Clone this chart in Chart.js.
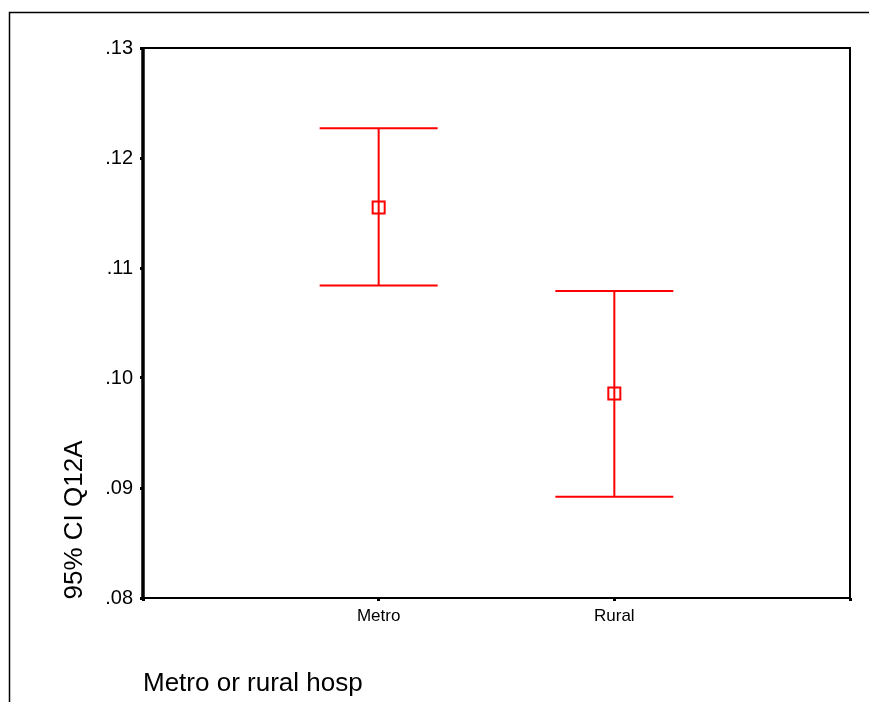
<!DOCTYPE html>
<html>
<head>
<meta charset="utf-8">
<title>95% CI Q12A by hospital type</title>
<script src="https://cdn.jsdelivr.net/npm/chart.js@4/dist/chart.umd.min.js"></script>
<style>
  html, body { margin: 0; padding: 0; background: #ffffff; }
  #wrap { width: 869px; height: 702px; position: relative; }
</style>
</head>
<body>
<div id="wrap"><canvas id="chart" width="869" height="702"></canvas></div>
<script>
// Hospital groups and their mean with 95% confidence limits
const categories = ['Metro', 'Rural'];
const means = [0.1155, 0.0986];
const lowerCI = [0.1084, 0.0892];
const upperCI = [0.1227, 0.1079];
const yTicks = [0.08, 0.09, 0.10, 0.11, 0.12, 0.13];

const yTitle = '95% CI Q12A';
const xTitle = 'Metro or rural hosp';

// Category slots with an empty slot at each end of the axis
const slotLabels = [''].concat(categories, ['']);
const meanSlots = [null].concat(means, [null]);

const FONT = "'Liberation Sans', Arial, Helvetica, sans-serif";

const frameAndBars = {
  id: 'frameAndBars',
  beforeDatasetsDraw(chart) {
    const { ctx, chartArea: a, scales } = chart;
    const xs = scales.x, ys = scales.y;
    ctx.save();
    // outer frame
    ctx.strokeStyle = '#000';
    ctx.lineWidth = 1.5;
    ctx.beginPath();
    ctx.moveTo(9.5, 702);
    ctx.lineTo(9.5, 12.5);
    ctx.lineTo(869, 12.5);
    ctx.stroke();
    // plot frame
    ctx.lineWidth = 2;
    ctx.beginPath();
    ctx.moveTo(a.left, a.top);
    ctx.lineTo(a.right, a.top);
    ctx.lineTo(a.right, a.bottom);
    ctx.lineTo(a.left, a.bottom);
    ctx.stroke();
    ctx.lineWidth = 3.5;
    ctx.beginPath();
    ctx.moveTo(a.left, a.top - 1);
    ctx.lineTo(a.left, a.bottom + 1.5);
    ctx.stroke();

    // confidence interval bars
    ctx.strokeStyle = '#ff0000';
    ctx.lineWidth = 2;
    const capHalf = 59;
    categories.forEach((c, i) => {
      const x = xs.getPixelForValue(i + 1);
      const yl = ys.getPixelForValue(lowerCI[i]);
      const yu = ys.getPixelForValue(upperCI[i]);
      ctx.beginPath();
      ctx.moveTo(x, yu);
      ctx.lineTo(x, yl);
      ctx.moveTo(x - capHalf, yu);
      ctx.lineTo(x + capHalf, yu);
      ctx.moveTo(x - capHalf, yl);
      ctx.lineTo(x + capHalf, yl);
      ctx.stroke();
    });
    ctx.restore();
  },
  afterDraw(chart) {
    const { ctx } = chart;
    ctx.save();
    ctx.fillStyle = '#000';
    ctx.font = '26px ' + FONT;
    ctx.textBaseline = 'alphabetic';
    // x axis title
    ctx.textAlign = 'left';
    ctx.fillText(xTitle, 143, 691);
    // y axis title
    ctx.translate(82, 520);
    ctx.rotate(-Math.PI / 2);
    ctx.textAlign = 'center';
    ctx.fillText(yTitle, 0, 0);
    ctx.restore();
  }
};

new Chart(document.getElementById('chart'), {
  type: 'line',
  data: {
    labels: slotLabels,
    datasets: [{
      data: meanSlots,
      showLine: false,
      pointStyle: 'rect',
      pointRadius: 8.5,
      pointHoverRadius: 8.5,
      pointBorderWidth: 2,
      pointBorderColor: '#ff0000',
      pointBackgroundColor: 'rgba(0,0,0,0)'
    }]
  },
  options: {
    responsive: false,
    animation: false,
    devicePixelRatio: 1,
    layout: { padding: { left: 0, top: 48, right: 19, bottom: 0 } },
    plugins: { legend: { display: false }, tooltip: { enabled: false } },
    scales: {
      x: {
        type: 'category',
        offset: false,
        border: { display: false },
        grid: { drawOnChartArea: false, drawTicks: true, tickLength: 3, lineWidth: 3, color: '#000' },
        ticks: {
          color: '#000',
          font: { family: FONT, size: 17 },
          padding: 5,
          maxRotation: 0,
          autoSkip: false
        },
        afterFit(scale) { scale.height = 104; }
      },
      y: {
        min: 0.08,
        max: 0.13,
        border: { display: false },
        grid: { drawOnChartArea: false, drawTicks: true, tickLength: 3, lineWidth: 3, color: '#000' },
        afterBuildTicks(scale) { scale.ticks = yTicks.map(v => ({ value: v })); },
        ticks: {
          color: '#000',
          font: { family: FONT, size: 20 },
          padding: 7,
          callback: v => v.toFixed(2).replace(/^0/, '')
        },
        afterFit(scale) { scale.width = 143; }
      }
    }
  },
  plugins: [frameAndBars]
});
</script>
</body>
</html>
